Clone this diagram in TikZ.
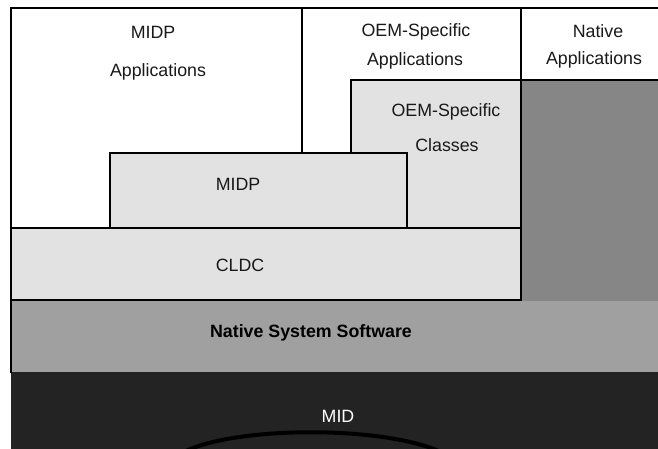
\documentclass[tikz,border=0pt]{standalone}
\usepackage{fontspec}
\setmainfont{Liberation Sans}
\definecolor{paleblock}{HTML}{E2E2E2}
\definecolor{nativegray}{HTML}{868686}
\definecolor{nssgray}{HTML}{A0A0A0}
\definecolor{devicedark}{HTML}{232323}
\begin{document}
\begin{tikzpicture}[x=1pt,y=-1pt,
  layer/.style={rectangle, anchor=north west, inner sep=0pt, outer sep=0pt,
                draw=black, line width=2pt},
  plainlayer/.style={rectangle, anchor=north west, inner sep=0pt, outer sep=0pt, draw=none},
  lbl/.style={inner sep=0pt, font=\fontsize{17.8}{20}\selectfont, text=black!90},
  edge/.style={draw=black, line width=2pt}]
\useasboundingbox (0,0) rectangle (658,448);
\clip (0,0) rectangle (658,448);

% device and native system layers
\node[plainlayer, fill=nssgray, minimum width=660, minimum height=73] (nss) at (11,300) {};
\node[plainlayer, fill=devicedark, minimum width=660, minimum height=80] (mid) at (11,372) {};
\draw[edge] (nss.north west) -- (nss.south west);

% native applications column
\node[layer, fill=nativegray, draw=none, minimum width=150, minimum height=222] (natbase) at (521,79) {};
\node[layer, fill=white, minimum width=150, minimum height=72] (natapps) at (521,8) {};

% application boxes
\node[layer, fill=white, minimum width=291, minimum height=220] (midpapps) at (11,8) {};
\node[layer, fill=white, minimum width=219, minimum height=220] (oemapps) at (302,8) {};

% libraries
\node[layer, fill=paleblock, minimum width=170, minimum height=148] (oemcls) at (351,80) {};
\node[layer, fill=paleblock, minimum width=297, minimum height=75] (midp) at (110,153) {};
\node[layer, fill=paleblock, minimum width=510, minimum height=72] (cldc) at (11,228) {};
\draw[edge] (natapps.south west) -- (cldc.north east);

% labels
\node[lbl] (t1) at (153,32) {MIDP};
\node[lbl] (t2) at (158,72) {Applications};
\node[lbl] (t3) at (416,32) {OEM-Specific};
\node[lbl] (t4) at (415,61) {Applications};
\node[lbl] (t5) at (598,31) {Native};
\node[lbl] (t6) at (594,60) {Applications};
\node[lbl] (t7) at (446,112) {OEM-Specific};
\node[lbl] (t8) at (447,145) {Classes};
\node[lbl] (t9) at (238,184) {MIDP};
\node[lbl] (t10) at (240,265) {CLDC};
\node[lbl, font=\fontsize{17.8}{20}\bfseries, text=black] (t11) at (311,333) {Native System Software};
\node[lbl, text=white] (t12) at (338,416) {MID};

% device outline
\draw[line width=4pt, black] (180,454) .. controls (230,425) and (390,425) .. (445,454);
\end{tikzpicture}
\end{document}
